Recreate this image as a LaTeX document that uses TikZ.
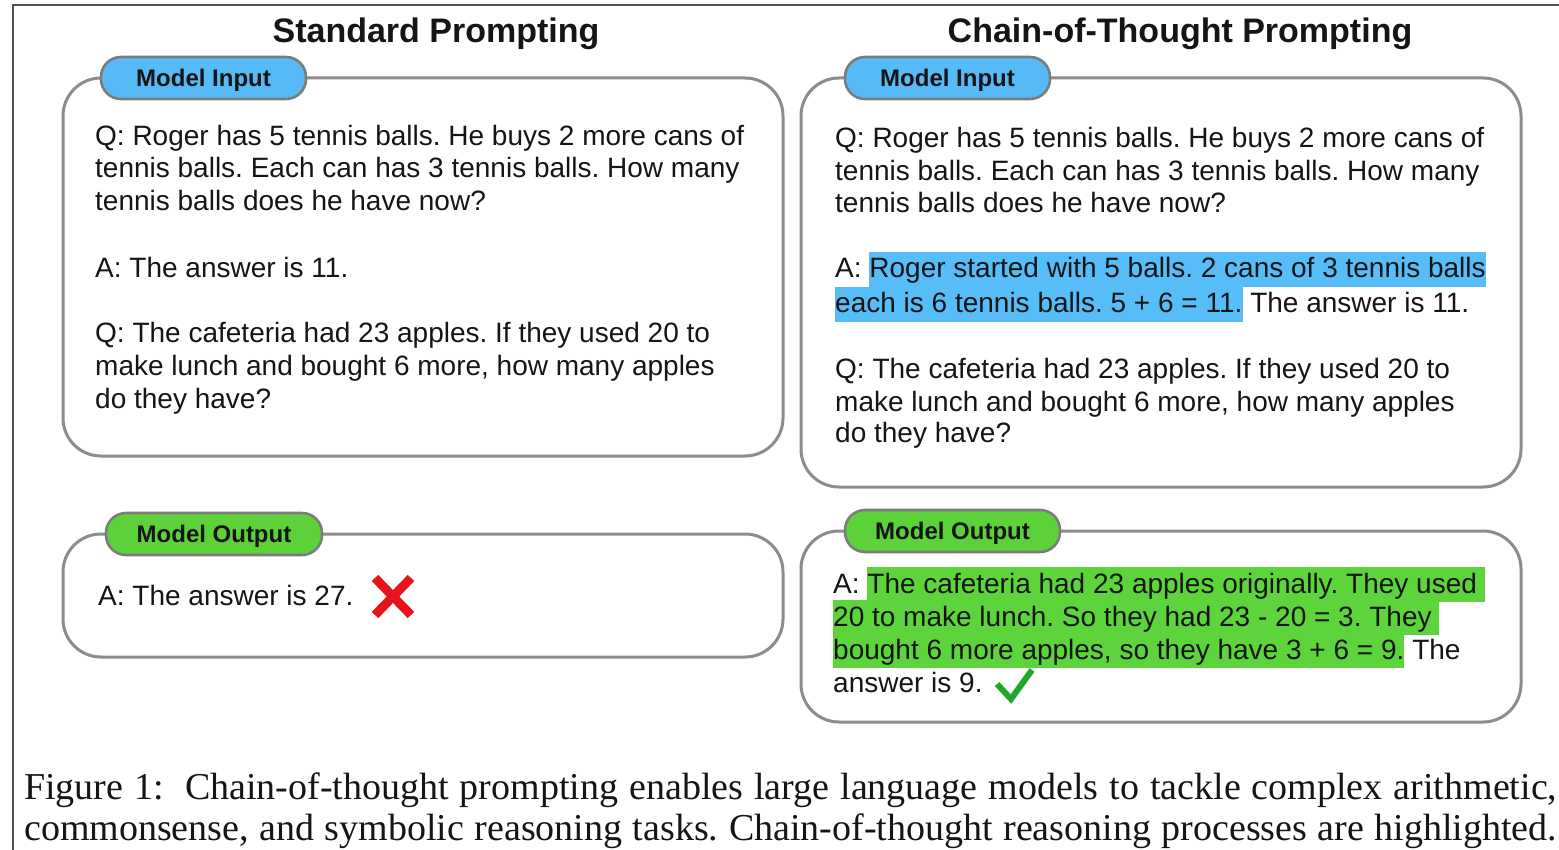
\documentclass[tikz,border=0pt]{standalone}
\usepackage{fontspec}
\setmainfont{Liberation Sans}
\newfontfamily\capfont{Liberation Serif}
\frenchspacing

\definecolor{pillblue}{HTML}{55BAF6}
\definecolor{hlblue}{HTML}{56BDF8}
\definecolor{pillgreen}{HTML}{5CD13A}
\definecolor{hlgreen}{HTML}{5DD43B}
\definecolor{panelgray}{HTML}{8C8C8C}
\definecolor{pillgray}{HTML}{7C7C7C}
\definecolor{framegray}{HTML}{505050}
\definecolor{crossred}{HTML}{E5141B}
\definecolor{tickgreen}{HTML}{1DA82A}
\definecolor{ink}{HTML}{151515}

% highlighted runs of text
\newcommand\hlb[1]{\begingroup\setlength{\fboxsep}{0pt}\colorbox{hlblue}{\rule[-9pt]{0pt}{35pt}#1}\endgroup}
\newcommand\hlg[1]{\begingroup\setlength{\fboxsep}{0pt}\colorbox{hlgreen}{\rule[-9pt]{0pt}{35pt}#1}\endgroup}

\tikzset{
  panel/.style={draw=panelgray, line width=3pt, rounded corners=38pt},
  pill/.style={draw=pillgray, line width=2.6pt, rounded corners=20pt,
    minimum width=#1, minimum height=42pt, inner sep=0pt,
    text height=17pt, text depth=0pt, text=ink,
    font=\fontsize{24}{28}\selectfont\bfseries},
  title/.style={anchor=base, inner sep=0pt, text=ink,
    font=\fontsize{34}{40}\selectfont\bfseries},
  txt/.style={anchor=base west, inner sep=0pt, text=ink,
    font=\fontsize{28}{33}\selectfont},
  captxt/.style={anchor=base west, inner sep=0pt, text=ink,
    font=\capfont\fontsize{38}{42}\selectfont},
  frameline/.style={draw=framegray, line width=2pt},
  crossmark/.style={draw=crossred, line width=9pt},
  tickmark/.style={draw=tickgreen, line width=6pt, line join=miter},
}

\begin{document}
\begin{tikzpicture}[x=1pt, y=-1pt]
\useasboundingbox (0,0) rectangle (1559,850);
\fill[white] (0,0) rectangle (1559,850);

% outer frame (top and left edges)
\draw[frameline] (13,850) -- (13,5) -- (1559,5);

% column titles
\node[title] (tStd) at (436,43) {Standard Prompting};
\node[title] (tCot) at (1180,43) {Chain-of-Thought Prompting};

% panels
\draw[panel] (63,78) rectangle (783,456);
\draw[panel] (801,78) rectangle (1521,487);
\draw[panel] (63,534) rectangle (783,657);
\draw[panel] (801,531) rectangle (1521,722);

% panel labels
\node[pill=205pt, fill=pillblue] (inL) at (203.5,78) {Model Input};
\node[pill=205pt, fill=pillblue] (inR) at (947.5,78) {Model Input};
\node[pill=216pt, fill=pillgreen] (outL) at (214,534) {Model Output};
\node[pill=215pt, fill=pillgreen] (outR) at (952.5,531) {Model Output};

% standard prompting: input
\node[txt] (sq1) at (95,146) {Q: Roger has 5 tennis balls. He buys 2 more cans of};
\node[txt] (sq2) at (95,178) {tennis balls. Each can has 3 tennis balls. How many};
\node[txt] (sq3) at (95,211) {tennis balls does he have now?};
\node[txt] (sa1) at (95,278) {A: The answer is 11.};
\node[txt] (sq4) at (95,343) {Q: The cafeteria had 23 apples. If they used 20 to};
\node[txt] (sq5) at (95,376) {make lunch and bought 6 more, how many apples};
\node[txt] (sq6) at (95,408) {do they have?};

% standard prompting: output
\node[txt] (so1) at (98,605) {A: The answer is 27.};
\draw[crossmark] (375,578) -- (411,615) (411,578) -- (375,615);

% chain-of-thought: input
\node[txt] (cq1) at (835,148) {Q: Roger has 5 tennis balls. He buys 2 more cans of};
\node[txt] (cq2) at (835,181) {tennis balls. Each can has 3 tennis balls. How many};
\node[txt] (cq3) at (835,213) {tennis balls does he have now?};
\node[txt] (ca1) at (835,278) {A: \hlb{Roger started with 5 balls. 2 cans of 3 tennis balls}};
\node[txt] (ca2) at (835,313) {\hlb{each is 6 tennis balls. 5 + 6 = 11.} The answer is 11.};
\node[txt] (cq4) at (835,378) {Q: The cafeteria had 23 apples. If they used 20 to};
\node[txt] (cq5) at (835,411) {make lunch and bought 6 more, how many apples};
\node[txt] (cq6) at (835,442) {do they have?};

% chain-of-thought: output
\node[txt] (co1) at (833,593) {A: \hlg{The cafeteria had 23 apples originally. They used\ }};
\node[txt] (co2) at (833,626) {\hlg{20 to make lunch. So they had 23 - 20 = 3. They\ }};
\node[txt] (co3) at (833,659) {\hlg{bought 6 more apples, so they have 3 + 6 = 9.} The};
\node[txt] (co4) at (833,692) {answer is 9.};
\draw[tickmark] (997,684) -- (1011,699) -- (1032,670);

% caption
\node[captxt] (cap1) at (24,799) {\makebox[1533pt][s]{Figure 1:\hspace{10pt} Chain-of-thought prompting enables large language models to tackle complex arithmetic,}};
\node[captxt] (cap2) at (24,840) {\makebox[1533pt][s]{commonsense, and symbolic reasoning tasks. Chain-of-thought reasoning processes are highlighted.}};
\end{tikzpicture}
\end{document}
